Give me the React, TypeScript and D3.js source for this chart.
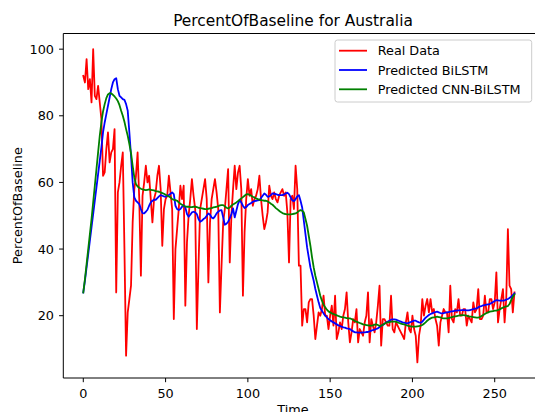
import React from "react";
import * as d3 from "d3";

const realData: number[] = [
  92, 90, 97, 88, 91, 84, 100, 86, 85, 89,
  84, 79, 62, 63, 70, 75, 66, 69, 70, 76,
  27, 57, 60, 65, 69, 40, 8, 21, 25, 29,
  48, 58, 62, 69, 55, 32, 56, 60, 65, 60,
  62, 55, 48, 55, 57, 62, 65, 58, 41, 52,
  55, 56, 62, 57, 52, 19, 40, 46, 52, 59,
  55, 59, 23, 42, 50, 55, 61, 56, 52, 16,
  35, 52, 55, 58, 61, 55, 30, 48, 55, 58,
  61, 57, 52, 21, 35, 48, 52, 58, 64, 36,
  50, 58, 65, 58, 63, 65, 58, 26, 45, 55,
  61, 56, 58, 53, 55, 56, 58, 62, 55, 50,
  46, 48, 51, 59, 56, 55, 57, 55, 54, 56,
  57, 58, 56, 57, 51, 36, 55, 56, 52, 65,
  58, 35, 35, 17, 22, 22, 18, 24, 25, 25,
  20, 13, 17, 21, 20, 22, 26, 20, 20, 16,
  20, 23, 17, 26, 13, 15, 18, 16, 20, 22,
  27, 18, 12, 15, 19, 18, 22, 12, 16, 15,
  14, 18, 20, 27, 12, 19, 17, 15, 18, 23,
  29, 11, 19, 19, 18, 17, 17, 26, 16, 15,
  18, 17, 16, 15, 14, 13, 18, 21, 16, 15,
  20, 16, 14, 6, 14, 17, 25, 20, 23, 25,
  21, 25, 21, 22, 19, 17, 11, 18, 20, 22,
  21, 21, 15, 29, 19, 18, 22, 21, 25, 20,
  20, 22, 22, 17, 20, 19, 18, 24, 21, 22,
  28, 19, 19, 20, 26, 21, 21, 25, 25, 22,
  24, 33, 18, 22, 25, 28, 18, 25, 46, 29,
  28, 21, 27,
];

const predBiLSTM: number[] = [
  27, 30.5, 34.5, 38.5, 42.5, 46.5, 50.5, 54.5, 58.5, 62.5,
  66.5, 70.5, 75, 78, 80.5, 83, 85.5, 88, 90, 91,
  91.3, 88, 86, 85.5, 85, 84.8, 83.5, 81.5, 75, 68,
  60, 55.5, 54.5, 54, 53.5, 52, 50.8, 50.7, 51.2, 51.8,
  53, 54, 54.5, 54.8, 54.8, 55.3, 55.8, 56.2, 56, 55.8,
  55.7, 56, 56.2, 56.6, 57, 56.5, 53, 52, 51.7, 52,
  52.7, 53.2, 52.5, 50.5, 49.7, 50.3, 51, 51.2, 51, 50.5,
  49, 48.2, 48.5, 49, 49.3, 50, 50.7, 50.3, 49.5, 49.2,
  49.8, 50.7, 51.2, 51.6, 51.7, 49.5, 47.3, 47.6, 48.2, 49.2,
  50.5, 52.2, 49.5, 51.5, 53.5, 54.7, 54, 53, 52.3, 52.6,
  53.2, 53.5, 53.8, 54.2, 54.4, 54.5, 54.6, 54.7, 55.3, 56,
  56.7, 56.3, 55.7, 55.8, 56.2, 56.7, 56.6, 56.5, 56.3, 56.2,
  56.2, 56.2, 56.4, 56.7, 56.9, 56.5, 55.5, 54.6, 54.4, 55,
  55.8, 56.2, 54.5, 52.5, 48.5, 44.5, 40.5, 37.5, 34.5, 32.5,
  30.5, 28, 26, 24, 22.3, 21.5, 20.7, 20, 19.5, 19,
  18.6, 18.3, 18, 17.7, 17.4, 17.1, 16.9, 16.7, 16.5, 16.4,
  16.2, 16.1, 16, 15.6, 15.3, 15, 15, 14.9, 14.9, 14.9,
  15, 15, 15.1, 15.1, 15.3, 15.5, 15.7, 15.8, 16, 16.2,
  16.6, 17, 17.2, 17.6, 18, 18.2, 18.5, 18.8, 18.9, 18.9,
  18.8, 18.6, 18.4, 18.2, 18, 17.9, 17.8, 17.7, 17.9, 18.1,
  18.3, 18.5, 18.5, 18.2, 18, 17.9, 18.2, 18.8, 19.4, 19.8,
  20.2, 20.5, 20.7, 20.9, 21.1, 21.2, 21, 20.8, 20.7, 20.8,
  20.9, 21, 21.1, 21.2, 21.3, 21.4, 21.5, 21.5, 21.6, 21.6,
  21.7, 21.7, 21.7, 21.6, 21.6, 21.7, 21.8, 22, 22.1, 22.2,
  22.5, 22.8, 22.9, 23.1, 23.2, 23.3, 23.4, 23.5, 23.8, 24.1,
  24.4, 24.7, 24.6, 24.5, 24.5, 24.5, 24.6, 24.8, 25, 25.3,
  25.7, 26.2, 26.7,
];

const predCNNBiLSTM: number[] = [
  27, 31, 35.5, 40, 44.5, 49, 54, 59, 64, 69,
  74, 78, 81.3, 83.5, 85.3, 86.4, 86.8, 86.7, 86.3, 85.8,
  85.2, 84.4, 83.2, 81.5, 80, 78.2, 76, 74, 71.5, 68.8,
  65, 61.5, 59.5, 58.8, 58.4, 58.1, 57.9, 57.8, 57.7, 57.8,
  57.9, 57.8, 57.7, 57.6, 57.4, 57.3, 57.2, 57, 56.8, 56.6,
  56.3, 56, 55.8, 55.5, 55, 54.8, 54.7, 54.5, 54, 53.6,
  53.3, 53, 52.8, 52.7, 52.7, 52.6, 52.6, 52.7, 52.7, 52.6,
  52.4, 52.3, 52.2, 52.1, 52, 52, 52.1, 52.2, 52.3, 52.5,
  52.6, 52.7, 52.9, 53.1, 53.2, 53.2, 52.8, 52.4, 52.2, 52.5,
  53, 53.4, 53.7, 54, 54.4, 54.8, 55.2, 55.6, 56, 56.4,
  56.5, 56.3, 56, 55.7, 55.5, 55.2, 55, 54.8, 54.7, 54.6,
  54.5, 54.5, 54.3, 54, 53.6, 53.3, 52.8, 52.3, 51.9, 51.5,
  51.1, 50.8, 50.6, 50.5, 50.4, 50.4, 50.4, 50.5, 50.6, 50.7,
  51, 51.4, 51.7, 51.5, 51, 49, 47, 44, 41, 37.5,
  34.5, 32, 30, 28, 26, 24.5, 23.3, 22.5, 21.8, 21.3,
  21, 20.7, 20.5, 20.3, 20.1, 19.9, 19.7, 19.6, 19.5, 19.4,
  19.3, 19.2, 19.2, 19, 18.7, 18.4, 18.2, 18, 17.8, 17.6,
  17.4, 17.3, 17.2, 17.1, 17, 17, 17.1, 17.3, 17.4, 17.2,
  16.9, 17, 17.3, 17.6, 17.9, 18, 18.1, 18.2, 18.2, 18.2,
  18.2, 18, 17.8, 17.6, 17.5, 17.4, 17.2, 17, 16.9, 16.8,
  16.7, 16.7, 16.7, 16.8, 16.9, 17, 17.2, 17.6, 18, 18.5,
  18.9, 19.2, 19.4, 19.5, 19.6, 19.7, 19.6, 19.5, 19.3, 19.2,
  19.2, 19.2, 19.3, 19.4, 19.6, 19.7, 19.8, 19.9, 20, 20.1,
  20.2, 20.2, 20.1, 20, 19.8, 19.7, 19.7, 19.6, 19.5, 19.4,
  19.4, 19.6, 19.9, 20.2, 20.5, 20.8, 21, 21.2, 21.3, 21.4,
  21.5, 21.5, 21.7, 21.9, 22.2, 22.4, 22.6, 22.8, 22.9, 23.5,
  24.7, 25.6, 26.4,
];

const xTicks: number[] = [0, 50, 100, 150, 200, 250];
const yTicks: number[] = [20, 40, 60, 80, 100];
const seriesNames: string[] = ["Real Data", "Predicted BiLSTM", "Predicted CNN-BiLSTM"];
const seriesColors: string[] = ["#ff0000", "#0000ff", "#008000"];
const titleText = "PercentOfBaseline for Australia";
const xLabel = "Time";
const yLabel = "PercentOfBaseline";

export default function App() {
  const W = 535;
  const H = 412;
  const left = 63.3;
  const right = 538;
  const top = 33.5;
  const bottom = 378;
  const font = "'DejaVu Sans', sans-serif";
  const fs = 12.8;

  const x = d3.scaleLinear().domain([-12.15, 276.3]).range([left, right]);
  const y = d3.scaleLinear().domain([1.3, 104.7]).range([bottom, top]);

  const line = d3
    .line<number>()
    .x((_, i) => x(i))
    .y((d) => y(d));

  const series = [realData, predBiLSTM, predCNNBiLSTM];

  const legX = 335;
  const legY = 40;
  const legW = 196.7;
  const legH = 62;
  const rowY = [50.7, 70, 89.3];

  return (
    <svg
      width={W}
      height={H}
      style={{ position: "absolute", left: 0, top: 0, background: "#fff" }}
      fontFamily={font}
    >
      <rect x={0} y={0} width={W} height={H} fill="#fff" />
      <defs>
        <clipPath id="plotClip">
          <rect x={left} y={top} width={right - left} height={bottom - top} />
        </clipPath>
      </defs>
      <g clipPath="url(#plotClip)">
        {series.map((s, k) => (
          <path
            key={k}
            d={line(s) || ""}
            fill="none"
            stroke={seriesColors[k]}
            strokeWidth={1.8}
            strokeLinejoin="round"
            strokeLinecap="square"
          />
        ))}
      </g>
      {/* spines */}
      <line x1={left} y1={top} x2={left} y2={bottom} stroke="#000" strokeWidth={1} />
      <line x1={left} y1={bottom} x2={right} y2={bottom} stroke="#000" strokeWidth={1} />
      <line x1={left} y1={top} x2={right} y2={top} stroke="#000" strokeWidth={1} />
      <line x1={right} y1={top} x2={right} y2={bottom} stroke="#000" strokeWidth={1} />
      {/* x ticks */}
      {xTicks.map((t) => (
        <g key={"x" + t}>
          <line x1={x(t)} y1={bottom} x2={x(t)} y2={bottom + 4.2} stroke="#000" strokeWidth={1} />
          <text x={x(t)} y={397.5} fontSize={fs} textAnchor="middle" fill="#000">
            {t}
          </text>
        </g>
      ))}
      {/* y ticks */}
      {yTicks.map((t) => (
        <g key={"y" + t}>
          <line x1={left - 4.2} y1={y(t)} x2={left} y2={y(t)} stroke="#000" strokeWidth={1} />
          <text x={54} y={y(t) + 4.6} fontSize={fs} textAnchor="end" fill="#000">
            {t}
          </text>
        </g>
      ))}
      {/* labels */}
      <text x={293} y={413.5} fontSize={fs} textAnchor="middle" fill="#000">
        {xLabel}
      </text>
      <text
        transform={`translate(21.8, ${(top + bottom) / 2}) rotate(-90)`}
        fontSize={fs}
        textAnchor="middle"
        fill="#000"
      >
        {yLabel}
      </text>
      <text x={293} y={26.3} fontSize={15.4} textAnchor="middle" fill="#000">
        {titleText}
      </text>
      {/* legend */}
      <rect
        x={legX}
        y={legY}
        width={legW}
        height={legH}
        rx={2.5}
        fill="#fff"
        fillOpacity={0.8}
        stroke="#cccccc"
        strokeWidth={1}
      />
      {seriesNames.map((n, k) => (
        <g key={n}>
          <line
            x1={339}
            y1={rowY[k]}
            x2={367}
            y2={rowY[k]}
            stroke={seriesColors[k]}
            strokeWidth={1.8}
          />
          <text x={377.7} y={rowY[k] + 4.6} fontSize={fs} fill="#000">
            {n}
          </text>
        </g>
      ))}
    </svg>
  );
}
